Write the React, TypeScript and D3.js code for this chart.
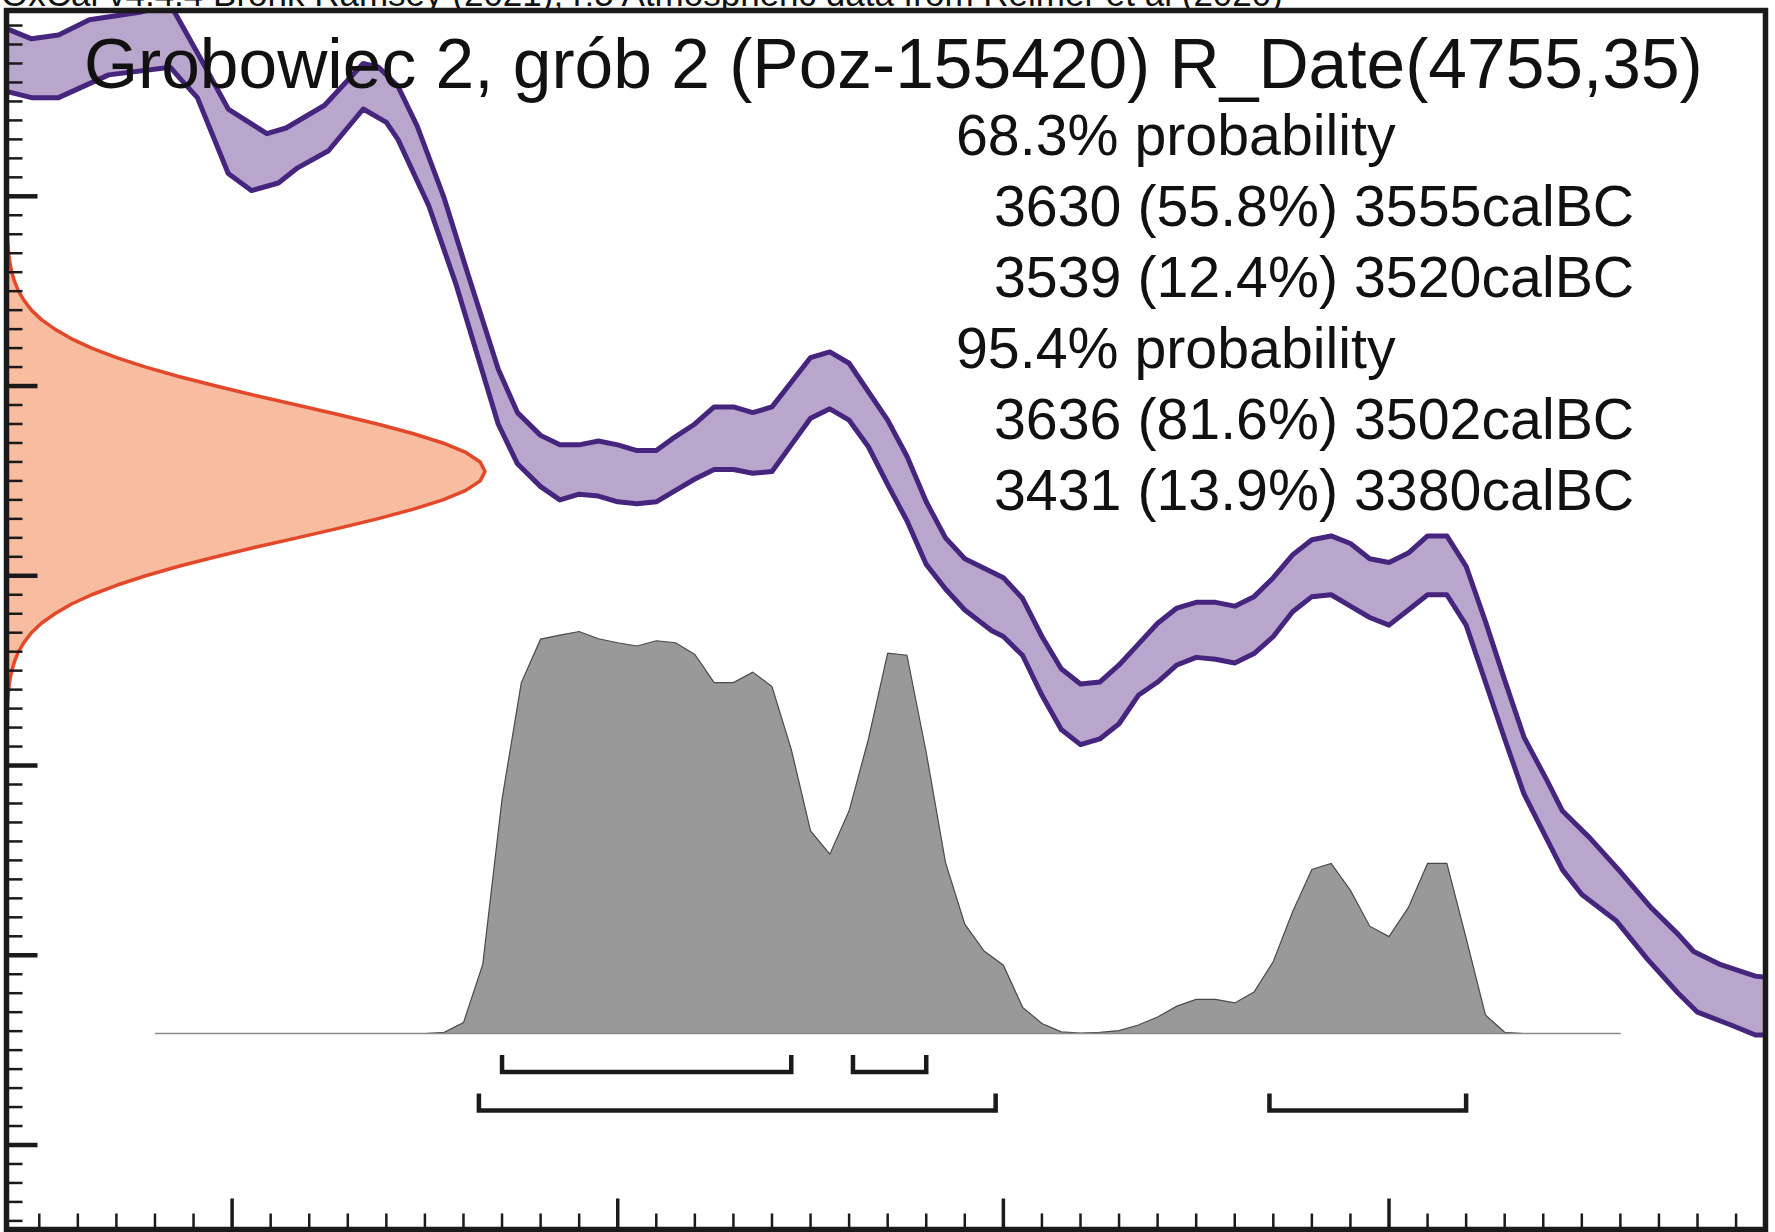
import React from 'react';
import * as d3 from 'd3';

// ---------- data ----------
const headerText = 'OxCal v4.4.4 Bronk Ramsey (2021); r:5 Atmospheric data from Reimer et al (2020)';
const titleText = 'Grobowiec 2, grób 2 (Poz-155420) R_Date(4755,35)';

// radiocarbon determination
const rDateBP = 4755;
const normalOffsets = [0, 5, 10, 15, 20, 25, 30, 35, 40, 45, 50, 55, 60, 65, 70, 75, 80, 85, 90, 95, 100, 105, 110, 115, 120, 125, 130, 135, 140];
const normalDensity = [1, 0.99, 0.96, 0.912, 0.849, 0.775, 0.693, 0.607, 0.52, 0.438, 0.36, 0.291, 0.23, 0.178, 0.135, 0.101, 0.073, 0.052, 0.037, 0.025, 0.017, 0.011, 0.007, 0.0045, 0.0028, 0.0017, 0.001, 0.0006, 0.0003];

// calibration curve band (cal BC, BP)
const calUpper: [number, number][] = [
  [3760, 4988], [3758, 4988], [3752, 4983], [3745, 4985], [3737, 4993], [3724, 4997], [3716, 5001],
  [3708, 4972], [3701, 4946], [3691, 4933], [3686, 4936], [3676, 4948], [3666, 4970], [3662, 4968],
  [3657, 4958], [3652, 4937], [3645, 4899], [3639, 4860], [3631, 4809], [3626, 4786], [3620, 4774],
  [3615, 4769], [3610, 4769], [3605, 4771], [3600, 4769], [3595, 4766], [3590, 4766], [3586, 4772],
  [3580, 4780], [3575, 4789], [3570, 4789], [3565, 4786], [3560, 4789], [3555, 4802], [3550, 4815],
  [3545, 4818], [3540, 4812], [3535, 4797], [3530, 4782], [3525, 4763], [3520, 4739], [3515, 4720],
  [3510, 4709], [3503, 4702], [3500, 4699], [3495, 4688], [3490, 4668], [3485, 4651], [3480, 4643],
  [3475, 4644], [3470, 4653], [3465, 4664], [3460, 4675], [3455, 4683], [3450, 4686], [3445, 4686],
  [3440, 4684], [3435, 4689], [3430, 4699], [3425, 4711], [3420, 4719], [3415, 4721], [3410, 4717],
  [3405, 4709], [3400, 4707], [3395, 4712], [3390, 4721], [3385, 4721], [3380, 4705], [3375, 4676],
  [3370, 4645], [3365, 4615], [3359, 4592], [3355, 4576], [3348, 4562], [3340, 4544], [3332, 4525],
  [3325, 4511], [3321, 4502], [3314, 4495], [3305, 4489], [3300, 4488]
];
const calLower: [number, number][] = [
  [3760, 4955], [3758, 4955], [3752, 4952], [3745, 4952], [3732, 4964], [3716, 4968], [3713, 4961],
  [3709, 4952], [3701, 4912], [3695, 4903], [3688, 4907], [3683, 4915], [3675, 4924], [3666, 4946],
  [3660, 4939], [3657, 4930], [3649, 4895], [3642, 4854], [3631, 4780], [3626, 4759], [3620, 4747],
  [3615, 4740], [3610, 4743], [3605, 4742], [3600, 4739], [3595, 4738], [3590, 4739], [3585, 4745],
  [3580, 4751], [3575, 4756], [3570, 4756], [3565, 4754], [3560, 4755], [3555, 4769], [3550, 4783],
  [3545, 4788], [3540, 4782], [3535, 4768], [3530, 4748], [3525, 4729], [3520, 4706], [3515, 4693],
  [3510, 4682], [3503, 4671], [3500, 4668], [3495, 4658], [3490, 4637], [3485, 4619], [3480, 4611],
  [3475, 4614], [3470, 4622], [3465, 4637], [3460, 4644], [3455, 4653], [3450, 4657], [3445, 4656],
  [3440, 4654], [3435, 4659], [3430, 4668], [3425, 4681], [3420, 4689], [3415, 4690], [3410, 4684],
  [3405, 4678], [3400, 4674], [3395, 4682], [3390, 4690], [3385, 4690], [3380, 4674], [3375, 4644],
  [3370, 4614], [3365, 4585], [3359, 4561], [3355, 4545], [3350, 4532], [3341, 4518], [3333, 4498],
  [3325, 4480], [3320, 4470], [3311, 4463], [3305, 4458], [3300, 4458]
];

// calibrated probability (cal BC, relative probability)
const calYears = [3720, 3650, 3645, 3640, 3635, 3630, 3625, 3620, 3615, 3610, 3605, 3600, 3595, 3590, 3585, 3580,
  3575, 3570, 3565, 3560, 3555, 3550, 3545, 3540, 3535, 3530, 3525, 3520, 3515, 3510, 3505, 3500, 3495, 3490,
  3485, 3480, 3475, 3470, 3465, 3460, 3455, 3450, 3445, 3440, 3435, 3430, 3425, 3420, 3415, 3410, 3405, 3400,
  3395, 3390, 3385, 3380, 3375, 3370, 3365, 3340];
const calProb = [0, 0, 0.003, 0.027, 0.172, 0.583, 0.873, 0.981, 0.991, 1.0, 0.982, 0.972, 0.964, 0.977, 0.972, 0.943,
  0.873, 0.873, 0.899, 0.863, 0.707, 0.504, 0.446, 0.554, 0.732, 0.946, 0.941, 0.699, 0.425, 0.272, 0.205, 0.17, 0.065, 0.025,
  0.004, 0.001, 0.003, 0.007, 0.021, 0.041, 0.068, 0.085, 0.085, 0.076, 0.103, 0.179, 0.303, 0.408, 0.423, 0.356, 0.267, 0.241,
  0.313, 0.423, 0.423, 0.237, 0.046, 0.003, 0, 0];

const ranges68 = [{ from: 3630, pct: '55.8', to: 3555 }, { from: 3539, pct: '12.4', to: 3520 }];
const ranges95 = [{ from: 3636, pct: '81.6', to: 3502 }, { from: 3431, pct: '13.9', to: 3380 }];

const bpTicks = d3.range(4360, 4991, 10);
const calTicks = d3.range(3750, 3309, -10);

// ---------- layout ----------
const W = 1775;
const H = 1232;
const frame = { left: 6.5, top: 10.5, right: 1765.5, bottom: 1229.5 };
const FONT = '"Liberation Sans", Arial, Helvetica, sans-serif';

export default function App() {
  const x = d3.scaleLinear().domain([3700, 3400]).range([232.1, 1389]);
  const y = d3.scaleLinear().domain([4400, 4900]).range([1145, 196.3]);
  const pY = d3.scaleLinear().domain([0, 1]).range([1033.5, 631.5]);
  const nX = d3.scaleLinear().domain([0, 1]).range([frame.left, 485]);

  const line = d3.line<[number, number]>().x(d => x(d[0])).y(d => y(d[1]));
  const bandPath = line(calUpper)! + 'L' + line([...calLower].reverse())!.slice(1) + 'Z';

  // red normal distribution (on BP axis)
  const normPts: [number, number][] = [];
  for (let i = normalOffsets.length - 1; i > 0; i--) normPts.push([rDateBP + normalOffsets[i], normalDensity[i]]);
  for (let i = 0; i < normalOffsets.length; i++) normPts.push([rDateBP - normalOffsets[i], normalDensity[i]]);
  const normArea = d3.area<[number, number]>().y(d => y(d[0])).x0(nX(0)).x1(d => nX(d[1]))(normPts)!;
  const normLine = d3.line<[number, number]>().y(d => y(d[0])).x(d => nX(d[1]))(normPts)!;

  const probPts: [number, number][] = calYears.map((yr, i) => [yr, calProb[i]]);
  const probArea = d3.area<[number, number]>().x(d => x(d[0])).y0(pY(0)).y1(d => pY(d[1]))(probPts)!;
  const probLine = d3.line<[number, number]>().x(d => x(d[0])).y(d => pY(d[1]))(probPts)!;

  const bracketPath = (r: { from: number; to: number }, yy: number) =>
    `M${x(r.from)},${yy - 17}V${yy}H${x(r.to)}V${yy - 17}`;

  const lines: { text: string; indent: boolean }[] = [
    { text: '68.3% probability', indent: false },
    ...ranges68.map(r => ({ text: `${r.from} (${r.pct}%) ${r.to}calBC`, indent: true })),
    { text: '95.4% probability', indent: false },
    ...ranges95.map(r => ({ text: `${r.from} (${r.pct}%) ${r.to}calBC`, indent: true })),
  ];

  return (
    <div style={{ position: 'absolute', left: 0, top: 0 }}>
      <svg width={W} height={H} style={{ display: 'block' }} fontFamily={FONT}>
        <defs>
          <clipPath id="plotClip">
            <rect x={frame.left} y={frame.top} width={frame.right - frame.left} height={frame.bottom - frame.top} />
          </clipPath>
        </defs>
        <rect x={0} y={0} width={W} height={H} fill="#ffffff" />
        <text x={1} y={6} fontSize={35} fill="#111">{headerText}</text>

        <g clipPath="url(#plotClip)">
          <path d={bandPath} fill="#b9a6cc" stroke="none" />
          <path d={line(calUpper)!} fill="none" stroke="#45257d" strokeWidth={5} strokeLinejoin="round" />
          <path d={line(calLower)!} fill="none" stroke="#45257d" strokeWidth={5} strokeLinejoin="round" />

          <path d={normArea} fill="#f8bca1" stroke="none" />
          <path d={normLine} fill="none" stroke="#e2492a" strokeWidth={3.5} strokeLinejoin="round" />

          <path d={probArea} fill="#999999" stroke="none" />
          <path d={probLine} fill="none" stroke="#4a4a4a" strokeWidth={1.2} />
          <line x1={x(calYears[0])} x2={x(calYears[calYears.length - 1])} y1={pY(0)} y2={pY(0)} stroke="#8a8a8a" strokeWidth={1.5} />
        </g>

        {ranges68.map((r, i) => (
          <path key={'b68' + i} d={bracketPath(r, 1072)} fill="none" stroke="#1a1a1a" strokeWidth={4.5} />
        ))}
        {ranges95.map((r, i) => (
          <path key={'b95' + i} d={bracketPath(r, 1110.5)} fill="none" stroke="#1a1a1a" strokeWidth={4.5} />
        ))}

        <text x={84} y={88} fontSize={69.5} fill="#111">{titleText}</text>
        {lines.map((l, i) => (
          <text key={i} x={l.indent ? 994 : 956} y={155 + i * 71} fontSize={57.3} fill="#111">{l.text}</text>
        ))}

        {bpTicks.map(t => (
          <line key={'yt' + t} x1={frame.left} x2={frame.left + (t % 100 === 0 ? 31 : 16)} y1={y(t)} y2={y(t)}
            stroke="#1a1a1a" strokeWidth={t % 100 === 0 ? 4.5 : 2.5} />
        ))}
        {calTicks.map(t => (
          <line key={'xt' + t} y1={frame.bottom} y2={frame.bottom - (t % 100 === 0 ? 31 : 16)} x1={x(t)} x2={x(t)}
            stroke="#1a1a1a" strokeWidth={t % 100 === 0 ? 3.5 : 2.5} />
        ))}
        <rect x={frame.left} y={frame.top} width={frame.right - frame.left} height={frame.bottom - frame.top}
          fill="none" stroke="#1a1a1a" strokeWidth={5.5} />
      </svg>
    </div>
  );
}
